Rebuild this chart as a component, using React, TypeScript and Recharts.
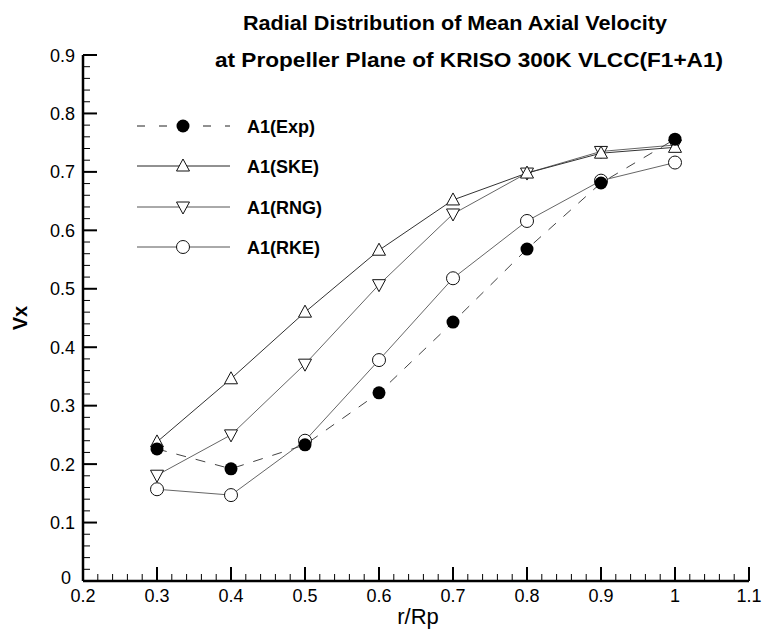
import React from 'react';
import { LineChart, Line, XAxis, YAxis } from 'recharts';

const rRp = [0.3, 0.4, 0.5, 0.6, 0.7, 0.8, 0.9, 1.0];
const expVx = [0.226, 0.192, 0.233, 0.322, 0.443, 0.568, 0.681, 0.756];
const skeVx = [0.238, 0.346, 0.46, 0.566, 0.652, 0.698, 0.732, 0.742];
const rngVx = [0.181, 0.25, 0.371, 0.507, 0.628, 0.698, 0.735, 0.746];
const rkeVx = [0.157, 0.147, 0.24, 0.378, 0.518, 0.616, 0.685, 0.716];

const xMajorTicks = [0.2, 0.3, 0.4, 0.5, 0.6, 0.7, 0.8, 0.9, 1.0, 1.1];
const xTickLabels = ['0.2', '0.3', '0.4', '0.5', '0.6', '0.7', '0.8', '0.9', '1', '1.1'];
const yMajorTicks = [0, 0.1, 0.2, 0.3, 0.4, 0.5, 0.6, 0.7, 0.8, 0.9];
const yTickLabels = ['0', '0.1', '0.2', '0.3', '0.4', '0.5', '0.6', '0.7', '0.8', '0.9'];

const titleLines = ['Radial Distribution of  Mean Axial Velocity', 'at Propeller Plane of KRISO 300K VLCC(F1+A1)'];
const seriesNames = ['A1(Exp)', 'A1(SKE)', 'A1(RNG)', 'A1(RKE)'];
const xLabel = 'r/Rp';
const yLabel = 'Vx';

const withMinors = (majors: number[]) => {
  const out: number[] = [];
  for (let i = 0; i < majors.length; i++) {
    out.push(majors[i]);
    if (i < majors.length - 1) {
      const step = (majors[i + 1] - majors[i]) / 5;
      for (let k = 1; k < 5; k++) out.push(Math.round((majors[i] + step * k) * 1000) / 1000);
    }
  }
  return out;
};
const xAllTicks = withMinors(xMajorTicks);
const yAllTicks = withMinors(yMajorTicks);

const data = rRp.map((r, i) => ({ r, exp: expVx[i], ske: skeVx[i], rng: rngVx[i], rke: rkeVx[i] }));

const FONT = '"Liberation Sans", Arial, Helvetica, sans-serif';

const majorIndex = (arr: number[], v: number) => arr.findIndex((t) => Math.abs(t - v) < 1e-6);

const XTick = (props: any) => {
  const { x, y, payload } = props;
  const idx = majorIndex(xMajorTicks, payload.value);
  const major = idx >= 0;
  return (
    <g>
      <line x1={x} x2={x} y1={y} y2={y - (major ? 14 : 7)} stroke="#000" strokeWidth={major ? 2 : 1} />
      {major && (
        <text x={x} y={y + 21} textAnchor="middle" fontSize={18} fontFamily={FONT} fill="#000">
          {xTickLabels[idx]}
        </text>
      )}
    </g>
  );
};

const YTick = (props: any) => {
  const { x, y, payload } = props;
  const idx = majorIndex(yMajorTicks, payload.value);
  const major = idx >= 0;
  const isZero = idx === 0;
  return (
    <g>
      <line x1={x} x2={x + (major ? 14 : 7)} y1={y} y2={y} stroke="#000" strokeWidth={major ? 2 : 1} />
      {major && (
        <text
          x={x - (isZero ? 12 : 8)}
          y={y + (isZero ? 3 : 6.5)}
          textAnchor="end"
          fontSize={18}
          fontFamily={FONT}
          fill="#000"
        >
          {yTickLabels[idx]}
        </text>
      )}
    </g>
  );
};

const FilledCircle = (p: any) => <circle key={`e-${p.index}`} cx={p.cx} cy={p.cy} r={6.5} fill="#000" />;
const OpenCircle = (p: any) => (
  <circle key={`c-${p.index}`} cx={p.cx} cy={p.cy} r={6.5} fill="#fff" stroke="#111" strokeWidth={1} />
);
const TriUp = (p: any) => (
  <polygon
    key={`u-${p.index}`}
    points={`${p.cx},${p.cy - 7} ${p.cx - 6.5},${p.cy + 5} ${p.cx + 6.5},${p.cy + 5}`}
    fill="#fff"
    stroke="#111"
    strokeWidth={1}
  />
);
const TriDown = (p: any) => (
  <polygon
    key={`d-${p.index}`}
    points={`${p.cx},${p.cy + 7} ${p.cx - 6.5},${p.cy - 5} ${p.cx + 6.5},${p.cy - 5}`}
    fill="#fff"
    stroke="#111"
    strokeWidth={1}
  />
);

const legendRows = [
  { name: seriesNames[0], dash: '8 14', stroke: '#222', y: 126 },
  { name: seriesNames[1], dash: undefined, stroke: '#222', y: 166 },
  { name: seriesNames[2], dash: undefined, stroke: '#555', y: 207 },
  { name: seriesNames[3], dash: undefined, stroke: '#555', y: 247 },
];

export default function App() {
  return (
    <div style={{ position: 'absolute', left: 0, top: 0, width: 763, height: 635, background: '#fff' }}>
      <LineChart width={763} height={635} data={data} margin={{ top: 55, right: 14, bottom: 44, left: 73 }}>
        <XAxis
          dataKey="r"
          type="number"
          domain={[0.2, 1.1]}
          ticks={xAllTicks}
          interval={0}
          height={10}
          tickSize={0}
          tickMargin={0}
          tickLine={false}
          tick={<XTick />}
          axisLine={{ stroke: '#000', strokeWidth: 2.5 }}
          allowDataOverflow
        />
        <YAxis
          type="number"
          domain={[0, 0.9]}
          ticks={yAllTicks}
          interval={0}
          width={10}
          tickSize={0}
          tickMargin={0}
          tickLine={false}
          tick={<YTick />}
          axisLine={{ stroke: '#000', strokeWidth: 2.5 }}
          allowDataOverflow
        />
        <Line dataKey="rke" type="linear" stroke="#666" strokeWidth={1} dot={OpenCircle} isAnimationActive={false} />
        <Line dataKey="rng" type="linear" stroke="#666" strokeWidth={1} dot={TriDown} isAnimationActive={false} />
        <Line dataKey="ske" type="linear" stroke="#333" strokeWidth={1} dot={TriUp} isAnimationActive={false} />
        <Line
          dataKey="exp"
          type="linear"
          stroke="#444"
          strokeWidth={1}
          strokeDasharray="10 10"
          dot={FilledCircle}
          isAnimationActive={false}
        />
      </LineChart>
      <svg
        width={763}
        height={635}
        style={{ position: 'absolute', left: 0, top: 0, pointerEvents: 'none' }}
      >
        <text x={243} y={30} fontSize={20} fontWeight="bold" fontFamily={FONT} textLength={424} lengthAdjust="spacingAndGlyphs">
          {titleLines[0]}
        </text>
        <text x={215} y={67} fontSize={20} fontWeight="bold" fontFamily={FONT} textLength={508} lengthAdjust="spacingAndGlyphs">
          {titleLines[1]}
        </text>
        {legendRows.map((row, i) => (
          <g key={row.name}>
            <line x1={137} x2={230} y1={row.y} y2={row.y} stroke={row.stroke} strokeWidth={1} strokeDasharray={row.dash} />
            {i === 0 && <circle cx={183} cy={row.y} r={6.5} fill="#000" />}
            {i === 1 && (
              <polygon points={`183,${row.y - 7} 176.5,${row.y + 5} 189.5,${row.y + 5}`} fill="#fff" stroke="#111" />
            )}
            {i === 2 && (
              <polygon points={`183,${row.y + 7} 176.5,${row.y - 5} 189.5,${row.y - 5}`} fill="#fff" stroke="#111" />
            )}
            {i === 3 && <circle cx={183} cy={row.y} r={6.5} fill="#fff" stroke="#111" />}
            <text x={247} y={row.y + 6.5} fontSize={18} fontWeight="bold" fontFamily={FONT}>
              {row.name}
            </text>
          </g>
        ))}
        <text x={418} y={624} textAnchor="middle" fontSize={22} fontFamily={FONT}>
          {xLabel}
        </text>
        <text
          x={0}
          y={0}
          transform="translate(27,318) rotate(-90)"
          textAnchor="middle"
          fontSize={20}
          fontWeight="bold"
          fontFamily={FONT}
        >
          {yLabel}
        </text>
      </svg>
    </div>
  );
}
